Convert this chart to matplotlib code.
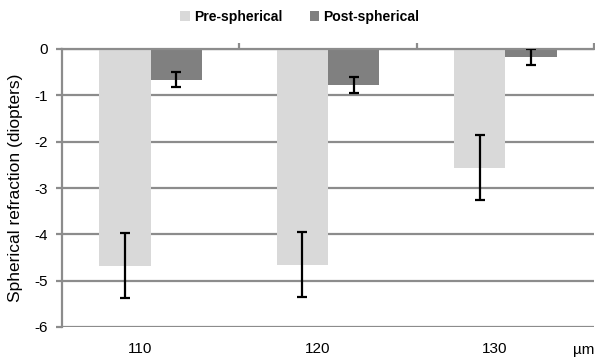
import numpy as np
import matplotlib
matplotlib.use("Agg")
import matplotlib.pyplot as plt

# data
categories = ["110", "120", "130"]
pre_vals = [-4.68, -4.66, -2.56]
pre_err = [0.70, 0.70, 0.70]
post_vals = [-0.66, -0.77, -0.17]
post_err = [0.17, 0.17, 0.17]
series = ["Pre-spherical", "Post-spherical"]

plt.rcParams["font.family"] = ["Liberation Sans", "DejaVu Sans"]
plt.rcParams["axes.unicode_minus"] = False

grid_col = "#8c8c8c"
fig = plt.figure(figsize=(5.95, 3.62), dpi=100)
ax = fig.add_axes([62 / 595, 1 - 327 / 362, 532 / 595, 278 / 362])

x = np.arange(len(categories))
w = 0.29
ax.bar(x - w / 2, pre_vals, w, color="#d9d9d9", label=series[0], zorder=2)
ax.bar(x + w / 2, post_vals, w, color="#808080", label=series[1], zorder=2)
ax.errorbar(x - w / 2, pre_vals, yerr=pre_err, fmt="none", ecolor="black",
            elinewidth=1.6, capsize=3.5, capthick=1.6, zorder=3)
ax.errorbar(x + w / 2, post_vals, yerr=post_err, fmt="none", ecolor="black",
            elinewidth=1.6, capsize=3.5, capthick=1.6, zorder=3)

ax.set_xlim(-0.5, 2.5)
ax.set_ylim(-6, 0)
ax.set_yticks(np.arange(-6, 1, 1))
ax.yaxis.grid(True, color=grid_col, linewidth=1.6, zorder=1)
ax.set_axisbelow(True)

for s in ["right", "bottom"]:
    ax.spines[s].set_visible(False)
ax.spines["left"].set_color(grid_col)
ax.spines["left"].set_linewidth(1.6)
ax.spines["top"].set_color(grid_col)
ax.spines["top"].set_linewidth(1.6)

ax.tick_params(axis="y", colors=grid_col, length=4, width=1.6, labelcolor="black",
               labelsize=11, pad=6)
ax.set_xticks(x - 0.06)
ax.set_xticklabels(categories, fontsize=11)
ax.tick_params(axis="x", length=0, pad=11)

top = ax.secondary_xaxis("top")
top.set_xticks([0.5, 1.5, 2.5])
top.set_xticklabels([])
top.tick_params(length=4, width=1.6, color=grid_col)
top.spines["top"].set_visible(False)

ax.set_ylabel("Spherical refraction (diopters)", fontsize=12.5, labelpad=8)
fig.text(594 / 595, 1 - 350 / 362, "µm", fontsize=11, ha="right", va="center")

leg = fig.legend(loc="center", bbox_to_anchor=(300 / 595, 1 - 17 / 362), ncol=2,
                 frameon=False, prop={"weight": "bold", "size": 10.1},
                 handlelength=0.7, handleheight=0.7, handletextpad=0.3,
                 columnspacing=1.9)

fig.savefig("out.png", dpi=100)
